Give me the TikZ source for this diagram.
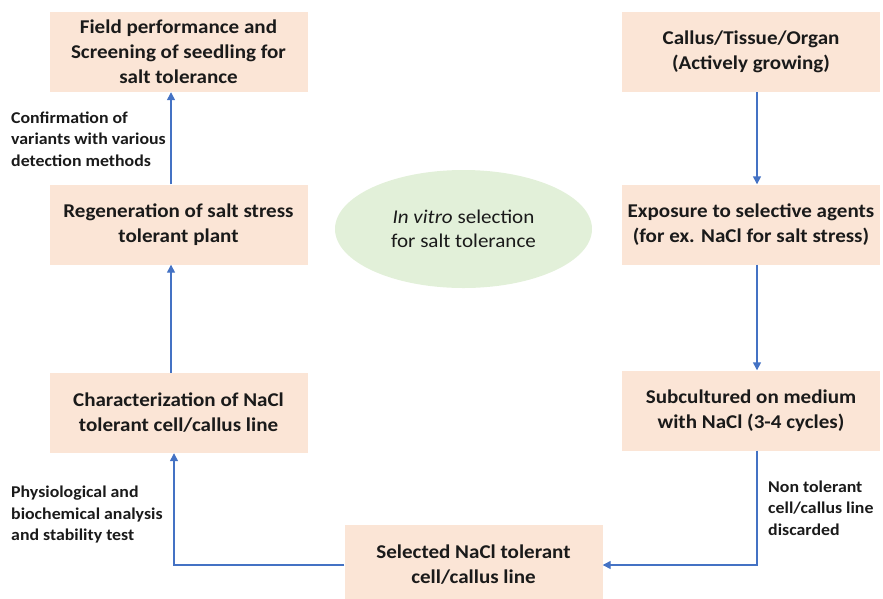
\documentclass[tikz,border=0pt]{standalone}
\usepackage{fontspec}
\setmainfont{Carlito}[FakeStretch=1.08]
\usetikzlibrary{arrows.meta,shapes.geometric}
\definecolor{boxfill}{HTML}{FBE5D6}
\definecolor{ovalfill}{HTML}{E2F0D9}
\definecolor{flow}{HTML}{4472C4}
\definecolor{ink}{HTML}{1A1A1A}
\begin{document}
\begin{tikzpicture}[x=1pt,y=-1pt,
  stepbox/.style={fill=boxfill, minimum width=258pt, minimum height=80pt,
    inner sep=0pt, align=center, text=ink,
    font=\fontsize{19.5}{25}\selectfont\bfseries},
  note/.style={anchor=west, align=left, text=ink, inner sep=0pt,
    font=\fontsize{16.5}{21.5}\selectfont\bfseries},
  flowline/.style={draw=flow, line width=1.4pt,
    -{Triangle[length=8pt,width=8pt]}}
]
\useasboundingbox (0,0) rectangle (883,598);
\clip (0,0) rectangle (883,598);

% left column
\node[stepbox] (field) at (178.5,52)
  {Field performance and\\Screening of seedling for\\salt tolerance};
\node[stepbox] (regen) at (178.5,224.5)
  {Regeneration of salt stress\\tolerant plant};
\node[stepbox] (char) at (178.5,413)
  {Characterization of NaCl\\tolerant cell/callus line};

% right column
\node[stepbox] (callus) at (751,52)
  {Callus/Tissue/Organ\\(Actively growing)};
\node[stepbox] (expo) at (751,224.5)
  {Exposure to selective agents\\(for ex. NaCl for salt stress)};
\node[stepbox] (sub) at (751,410.5)
  {Subcultured on medium\\with NaCl (3-4 cycles)};

% bottom
\node[stepbox] (sel) at (473.5,565)
  {Selected NaCl tolerant\\cell/callus line};

% centre
\node[ellipse, fill=ovalfill, minimum width=257pt, minimum height=118pt,
  inner sep=0pt, align=center, text=ink,
  font=\fontsize{19.5}{24}\selectfont] (core) at (463.5,229)
  {\textit{In vitro} selection\\for salt tolerance};

% connector columns
\coordinate (lx) at (171,0);
\coordinate (lxb) at (174,0);
\coordinate (rx) at (757,0);

\draw[flowline] (regen.north -| lx) -- (field.south -| lx);
\draw[flowline] (char.north -| lx) -- (regen.south -| lx);
\draw[flowline] (sel.west) -| (lxb |- char.south);
\draw[flowline] (callus.south -| rx) -- (expo.north -| rx);
\draw[flowline] (expo.south -| rx) -- (sub.north -| rx);
\draw[flowline] (sub.south -| rx) |- (sel.east);

% side notes
\node[note] (n1) at (11,139)
  {Confirmation of\\variants with various\\detection methods};
\node[note] (n2) at (11,514.5)
  {Physiological and\\biochemical analysis\\and stability test};
\node[note] (n3) at (768,508)
  {Non tolerant\\cell/callus line\\discarded};
\end{tikzpicture}
\end{document}
